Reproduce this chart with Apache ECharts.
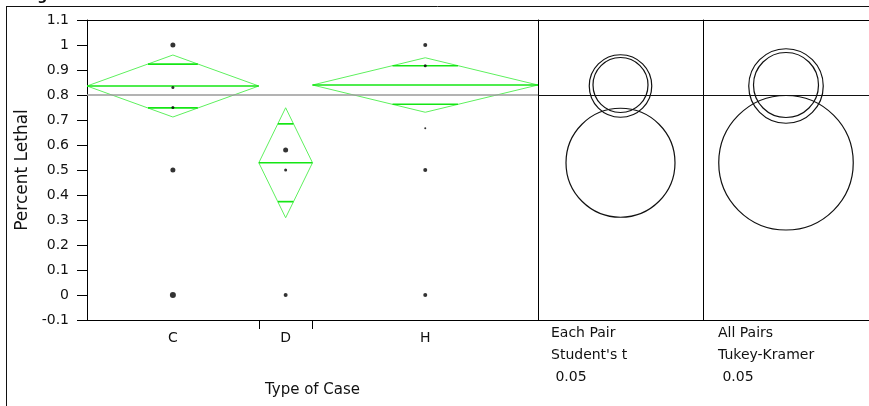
<!DOCTYPE html>
<html>
<head>
<meta charset="utf-8">
<script src="https://cdn.jsdelivr.net/npm/echarts@6/dist/echarts.min.js"></script>
<style>
  html, body { margin: 0; padding: 0; background: #fff; }
  #chart { width: 869px; height: 406px; }
</style>
</head>
<body>
<div id="chart"></div>
<script>
// groups and their weights (widths of the x regions)
const groups = ['C', 'D', 'H']
const groupCounts = [16, 5, 21]

// means diamonds
const groupMeans = [0.836, 0.529, 0.840]
const ciHalfWidths = [0.124, 0.220, 0.109]
const grandMean = 0.802

// observed points per group
const pointsC = [1.0, 0.83, 0.75, 0.5, 0]
const pointsD = [0.58, 0.5, 0]
const pointsH = [1.0, 0.917, 0.667, 0.5, 0]

// comparison circles: radius around each group mean
const tCircleRadii = [0.125, 0.218, 0.110]
const tukeyCircleRadii = [0.149, 0.269, 0.130]

const yTicks = [-0.1, 0, 0.1, 0.2, 0.3, 0.4, 0.5, 0.6, 0.7, 0.8, 0.9, 1.0, 1.1]

// marker sizes (overplotting makes some dots look heavier)
const dotSizes = [[5, 3, 3, 5, 6], [5, 3, 4], [4, 3, 2, 4, 4]]

const FONT = 'DejaVu Sans'
const INK = '#000'
const total = groupCounts.reduce((a, b) => a + b, 0)
const starts = []
let acc = 0
groupCounts.forEach((n) => { starts.push(acc); acc += n })
const centers = groupCounts.map((n, i) => starts[i] + n / 2)
const boundaries = starts.slice(1)

const pointData = []
;[pointsC, pointsD, pointsH].forEach((list, gi) => {
  list.forEach((v, k) => {
    pointData.push({ value: [centers[gi], v], symbolSize: dotSizes[gi][k] })
  })
})

const diamondData = groups.map((g, i) => [starts[i], starts[i] + groupCounts[i], groupMeans[i], ciHalfWidths[i]])

const renderDiamond = (params, api) => {
  const x0 = api.value(0)
  const x1 = api.value(1)
  const m = api.value(2)
  const h = api.value(3)
  const xc = (x0 + x1) / 2
  const ov = h / Math.SQRT2
  const ow = (x1 - x0) * 0.145
  const left = api.coord([x0, m])
  const right = api.coord([x1, m])
  const top = api.coord([xc, m + h])
  const bottom = api.coord([xc, m - h])
  const hline = (y, xa, xb) => {
    const a = api.coord([xa, y])
    const b = api.coord([xb, y])
    return {
      type: 'line',
      shape: { x1: a[0], y1: a[1], x2: b[0], y2: b[1] },
      style: { stroke: '#14e614', lineWidth: 1.7 }
    }
  }
  return {
    type: 'group',
    children: [
      {
        type: 'polygon',
        shape: { points: [left, top, right, bottom] },
        style: { fill: 'none', stroke: '#5ef05e', lineWidth: 1 }
      },
      hline(m, x0, x1),
      hline(m + ov, xc - ow, xc + ow),
      hline(m - ov, xc - ow, xc + ow)
    ]
  }
}

const renderCircle = (params, api) => {
  const c = api.coord([0, api.value(0)])
  const r = api.size([0, api.value(1)])[1]
  return {
    type: 'circle',
    shape: { cx: c[0], cy: c[1], r: r },
    style: { fill: 'none', stroke: '#111', lineWidth: 1.2 }
  }
}

const circleData = (radii) => groups.map((g, i) => [groupMeans[i], radii[i]])

const hiddenY = (gi) => ({
  type: 'value',
  gridIndex: gi,
  min: yTicks[0],
  max: yTicks[yTicks.length - 1],
  interval: 0.1,
  show: false
})

// frame-only axes (top/bottom edges of a panel)
const edgeX = (gi, position, half) => ({
  type: 'value',
  gridIndex: gi,
  position: position,
  min: -half,
  max: half,
  axisLine: { show: true, onZero: false, lineStyle: { color: INK, width: 1 } },
  axisTick: { show: false },
  axisLabel: { show: false },
  splitLine: { show: false }
})

// frame-only right edge of a panel
const edgeY = (gi) => ({
  type: 'value',
  gridIndex: gi,
  position: 'right',
  min: yTicks[0],
  max: yTicks[yTicks.length - 1],
  interval: 0.1,
  axisLine: { show: true, onZero: false, lineStyle: { color: INK, width: 1 } },
  axisTick: { show: false },
  axisLabel: { show: false },
  splitLine: { show: false }
})

const meanLine = (color, width) => ({
  silent: true,
  symbol: 'none',
  label: { show: false },
  lineStyle: { color: color, width: width, type: 'solid' },
  data: [{ yAxis: grandMean }]
})

const chart = echarts.init(document.getElementById('chart'))

chart.setOption({
  animation: false,
  grid: [
    { left: 87, top: 20, width: 451, height: 300 },
    { left: 538, top: 20, width: 165, height: 300 },
    { left: 703, top: 20, width: 170, height: 300 }
  ],
  xAxis: [
    {
      type: 'value',
      gridIndex: 0,
      min: 0,
      max: total,
      splitLine: { show: false },
      axisLine: { show: true, onZero: false, lineStyle: { color: INK, width: 1 } },
      axisTick: { show: true, customValues: boundaries, length: 9, lineStyle: { color: INK } },
      axisLabel: {
        customValues: centers,
        formatter: (v) => groups[centers.indexOf(v)] || '',
        color: '#111',
        fontFamily: FONT,
        fontSize: 14,
        margin: 11
      },
      name: 'Type of Case',
      nameLocation: 'middle',
      nameGap: 63,
      nameTextStyle: { color: '#111', fontFamily: FONT, fontSize: 15 }
    },
    edgeX(0, 'top', 1),
    edgeX(1, 'bottom', 0.33),
    edgeX(1, 'top', 0.33),
    edgeX(2, 'bottom', 0.34),
    edgeX(2, 'top', 0.34)
  ],
  yAxis: [
    {
      type: 'value',
      gridIndex: 0,
      min: yTicks[0],
      max: yTicks[yTicks.length - 1],
      interval: 0.1,
      splitLine: { show: false },
      axisLine: { show: true, onZero: false, lineStyle: { color: INK, width: 1 } },
      axisTick: { show: true, length: 10, lineStyle: { color: INK } },
      axisLabel: {
        color: '#111',
        fontFamily: FONT,
        fontSize: 14,
        margin: 18,
        formatter: (v) => String(+v.toFixed(1))
      },
      name: 'Percent Lethal',
      nameLocation: 'middle',
      nameRotate: 90,
      nameGap: 54,
      nameTextStyle: { color: '#111', fontFamily: FONT, fontSize: 17 }
    },
    edgeY(0),
    hiddenY(1),
    edgeY(1),
    hiddenY(2)
  ],
  series: [
    {
      type: 'custom',
      xAxisIndex: 0,
      yAxisIndex: 0,
      renderItem: renderDiamond,
      data: diamondData,
      z: 2,
      markLine: meanLine('#9a9a9a', 1.5)
    },
    {
      type: 'scatter',
      xAxisIndex: 0,
      yAxisIndex: 0,
      symbol: 'circle',
      itemStyle: { color: '#000' },
      data: pointData,
      z: 3
    },
    {
      type: 'custom',
      xAxisIndex: 2,
      yAxisIndex: 2,
      renderItem: renderCircle,
      data: circleData(tCircleRadii),
      markLine: meanLine('#111', 1.2)
    },
    {
      type: 'custom',
      xAxisIndex: 4,
      yAxisIndex: 4,
      renderItem: renderCircle,
      data: circleData(tukeyCircleRadii),
      markLine: meanLine('#111', 1.2)
    }
  ],
  graphic: [
    { type: 'line', shape: { x1: 6, y1: 6.5, x2: 869, y2: 6.5 }, style: { stroke: '#111', lineWidth: 1 } },
    { type: 'line', shape: { x1: 6.5, y1: 6, x2: 6.5, y2: 406 }, style: { stroke: '#111', lineWidth: 1 } },
    {
      type: 'text', left: 8, top: -11,
      style: { text: 'Weight: Number of Lethal Chick Cases', font: 'bold 14px "DejaVu Sans"', fill: '#111' }
    },
    {
      type: 'text', left: 551, top: 322,
      style: { text: 'Each Pair\nStudent\'s t\n 0.05', font: '14px "DejaVu Sans"', lineHeight: 22, fill: '#111' }
    },
    {
      type: 'text', left: 718, top: 322,
      style: { text: 'All Pairs\nTukey-Kramer\n 0.05', font: '14px "DejaVu Sans"', lineHeight: 22, fill: '#111' }
    }
  ]
})
</script>
</body>
</html>
